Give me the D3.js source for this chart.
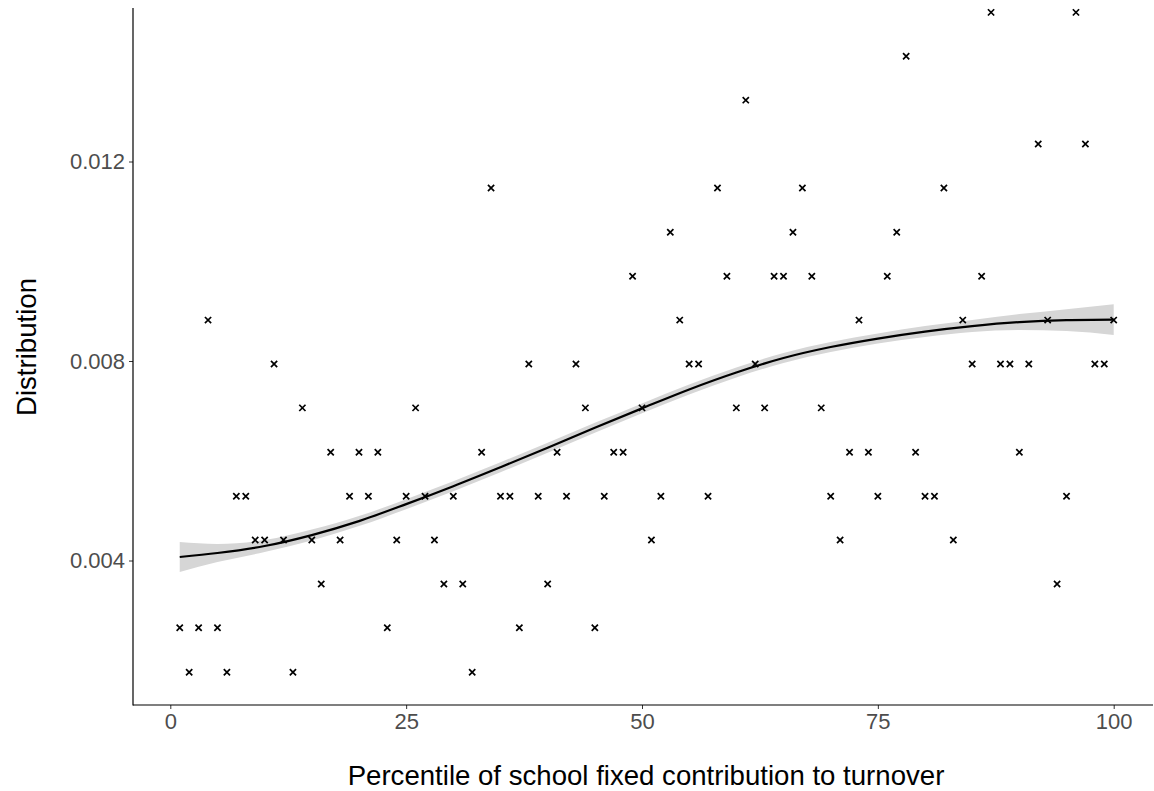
<!DOCTYPE html>
<meta charset="utf-8">
<style>
    body { margin: 0; background: #fff; }
    svg text { font-family: "Liberation Sans", Arial, sans-serif; }
    .tick text { fill: #4d4d4d; font-size: 22px; }
    .tick line { stroke: #333; }
    .domain { display: none; }
</style>

<svg width="1154" height="791"></svg>

<script src="https://cdn.jsdelivr.net/npm/d3@7"></script>

<script>
    // percentiles 1..100 and the share of schools in each
    var percentile = d3.range(1, 101);
    var distribution = [
        0.00265, 0.00176, 0.00265, 0.00882, 0.00265, 0.00176, 0.00529, 0.00529, 0.00441, 0.00441,
        0.00794, 0.00441, 0.00176, 0.00706, 0.00441, 0.00353, 0.00617, 0.00441, 0.00529, 0.00617,
        0.00529, 0.00617, 0.00265, 0.00441, 0.00529, 0.00706, 0.00529, 0.00441, 0.00353, 0.00529,
        0.00353, 0.00176, 0.00617, 0.01147, 0.00529, 0.00529, 0.00265, 0.00794, 0.00529, 0.00353,
        0.00617, 0.00529, 0.00794, 0.00706, 0.00265, 0.00529, 0.00617, 0.00617, 0.00970, 0.00706,
        0.00441, 0.00529, 0.01058, 0.00882, 0.00794, 0.00794, 0.00529, 0.01147, 0.00970, 0.00706,
        0.01323, 0.00794, 0.00706, 0.00970, 0.00970, 0.01058, 0.01147, 0.00970, 0.00706, 0.00529,
        0.00441, 0.00617, 0.00882, 0.00617, 0.00529, 0.00970, 0.01058, 0.01411, 0.00617, 0.00529,
        0.00529, 0.01147, 0.00441, 0.00882, 0.00794, 0.00970, 0.01499, 0.00794, 0.00794, 0.00617,
        0.00794, 0.01235, 0.00882, 0.00353, 0.00529, 0.01499, 0.01235, 0.00794, 0.00794, 0.00882
    ];

    // loess fit with its confidence band
    var smoothX  = [1, 5, 10, 15, 20, 25, 30, 35, 40, 45, 50, 55, 60, 65, 70, 75, 80, 85, 90, 95, 100];
    var smoothY  = [0.00407, 0.00415, 0.00429, 0.00451, 0.00479, 0.00513, 0.00549, 0.00587, 0.00626, 0.00666,
                    0.00705, 0.00743, 0.00777, 0.00806, 0.00828, 0.00845, 0.00859, 0.00870, 0.00878, 0.00882, 0.00883];
    var smoothLo = [0.00377, 0.00397, 0.00417, 0.00440, 0.00469, 0.00503, 0.00539, 0.00577, 0.00616, 0.00656,
                    0.00695, 0.00733, 0.00767, 0.00796, 0.00818, 0.00835, 0.00848, 0.00858, 0.00862, 0.00860, 0.00852];
    var smoothHi = [0.00437, 0.00433, 0.00441, 0.00462, 0.00489, 0.00523, 0.00559, 0.00597, 0.00636, 0.00676,
                    0.00715, 0.00753, 0.00787, 0.00816, 0.00838, 0.00855, 0.00870, 0.00882, 0.00894, 0.00904, 0.00914];

    var xTicks = [0, 25, 50, 75, 100];
    var yTicks = [0.004, 0.008, 0.012];

    (function () {
        var svg = d3.select("svg"),
            panelLeft = 133,
            panelRight = 1153,
            panelTop = 8,
            panelBottom = 705,
            xScale = d3.scaleLinear().domain([0, 100]).range([170.3, 1113.7]),
            yScale = d3.scaleLinear().domain([0.004, 0.012]).range([560.5, 161.5]);

        // confidence band
        var band = d3.area()
            .x(function (d, i) { return xScale(smoothX[i]); })
            .y0(function (d, i) { return yScale(smoothLo[i]); })
            .y1(function (d, i) { return yScale(smoothHi[i]); })
            .curve(d3.curveMonotoneX);

        svg.append("path")
            .datum(smoothX)
            .attr("d", band)
            .attr("fill", "#d6d6d6");

        // points
        var cross = d3.symbol(d3.symbolX, 27);
        svg.selectAll("path.pt")
            .data(percentile)
            .enter()
            .append("path")
            .attr("class", "pt")
            .attr("d", cross)
            .attr("transform", function (d, i) {
                return "translate(" + [xScale(d), yScale(distribution[i])] + ")";
            })
            .attr("stroke", "#000")
            .attr("stroke-width", 1.7)
            .attr("fill", "none");

        // fitted line
        var line = d3.line()
            .x(function (d, i) { return xScale(smoothX[i]); })
            .y(function (d, i) { return yScale(smoothY[i]); })
            .curve(d3.curveMonotoneX);

        svg.append("path")
            .datum(smoothX)
            .attr("d", line)
            .attr("fill", "none")
            .attr("stroke", "#000")
            .attr("stroke-width", 2.2);

        // axes
        svg.append("g")
            .attr("transform", "translate(0," + panelBottom + ")")
            .call(d3.axisBottom(xScale).tickValues(xTicks).tickSize(4).tickPadding(4)
                .tickFormat(d3.format("d")));

        svg.append("g")
            .attr("transform", "translate(" + panelLeft + ",0)")
            .call(d3.axisLeft(yScale).tickValues(yTicks).tickSize(4).tickPadding(4)
                .tickFormat(d3.format(".3f")));

        svg.append("line")
            .attr("x1", panelLeft).attr("x2", panelLeft)
            .attr("y1", panelTop).attr("y2", panelBottom + 0.5)
            .attr("stroke", "#000").attr("stroke-width", 1.2);
        svg.append("line")
            .attr("x1", panelLeft).attr("x2", panelRight)
            .attr("y1", panelBottom).attr("y2", panelBottom)
            .attr("stroke", "#000").attr("stroke-width", 1.2);

        // titles
        svg.append("text")
            .attr("x", 646)
            .attr("y", 785)
            .attr("text-anchor", "middle")
            .attr("font-size", "27.6px")
            .attr("fill", "#000")
            .text("Percentile of school fixed contribution to turnover");

        svg.append("text")
            .attr("transform", "translate(36,347) rotate(-90)")
            .attr("text-anchor", "middle")
            .attr("font-size", "27.6px")
            .attr("fill", "#000")
            .text("Distribution");
    })();
</script>
